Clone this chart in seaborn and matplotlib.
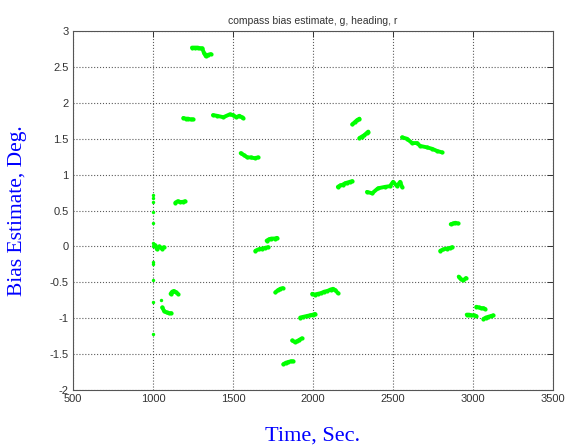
import numpy as np
import pandas as pd
import matplotlib
matplotlib.use('Agg')
import matplotlib.pyplot as plt
import seaborn as sns

# isolated estimates right at start-up (t = 1000 s)
spike_t = [1000, 1000, 1000, 1000, 1000, 1000, 1000, 1000, 1000, 1000, 1000, 1000, 1050]
spike_bias = [0.72, 0.68, 0.62, 0.48, 0.33, 0.05, 0.0, -0.22, -0.25, -0.47, -0.77, -1.22, -0.75]

# converged segments of the compass bias estimate
seg_id = ([1] * 5 + [2] * 5 + [3] * 5 + [4] * 5 + [5] * 5 + [6] * 9 + [7] * 9 + [8] * 6
          + [9] * 5 + [10] * 5 + [11] * 4 + [12] * 5 + [13] * 5 + [14] * 6 + [15] * 10
          + [16] * 7 + [17] * 4 + [18] * 5 + [19] * 9 + [20] * 9 + [21] * 5 + [22] * 4
          + [23] * 4 + [24] * 5 + [25] * 5 + [26] * 5)
seg_t = [1012, 1025, 1040, 1055, 1068,
         1058, 1070, 1085, 1100, 1115,
         1110, 1120, 1130, 1145, 1155,
         1140, 1155, 1170, 1185, 1200,
         1190, 1205, 1220, 1235, 1250,
         1244, 1260, 1280, 1295, 1308, 1318, 1330, 1345, 1360,
         1375, 1400, 1440, 1480, 1500, 1520, 1540, 1555, 1562,
         1548, 1570, 1590, 1610, 1635, 1656,
         1640, 1660, 1680, 1700, 1720,
         1710, 1725, 1740, 1760, 1775,
         1765, 1780, 1795, 1810,
         1815, 1830, 1845, 1860, 1875,
         1870, 1885, 1900, 1915, 1930,
         1920, 1940, 1960, 1980, 2000, 2012,
         1995, 2010, 2030, 2050, 2070, 2090, 2110, 2125, 2140, 2155,
         2155, 2170, 2185, 2200, 2215, 2230, 2245,
         2245, 2260, 2275, 2290,
         2290, 2305, 2320, 2335, 2345,
         2337, 2369, 2406, 2450, 2481, 2500, 2525, 2544, 2556,
         2556, 2587, 2619, 2650, 2669, 2712, 2744, 2775, 2806,
         2795, 2815, 2835, 2855, 2870,
         2860, 2875, 2890, 2905,
         2910, 2925, 2940, 2955,
         2960, 2975, 2990, 3005, 3020,
         3020, 3035, 3050, 3065, 3075,
         3065, 3080, 3095, 3110, 3125]
seg_bias = [0.02, -0.04, 0.00, -0.03, -0.01,
            -0.85, -0.90, -0.92, -0.93, -0.93,
            -0.66, -0.63, -0.62, -0.64, -0.66,
            0.61, 0.63, 0.62, 0.62, 0.63,
            1.79, 1.78, 1.78, 1.77, 1.77,
            2.77, 2.77, 2.77, 2.76, 2.76, 2.70, 2.65, 2.67, 2.68,
            1.83, 1.82, 1.80, 1.84, 1.83, 1.80, 1.82, 1.80, 1.79,
            1.30, 1.27, 1.24, 1.24, 1.23, 1.24,
            -0.06, -0.04, -0.03, -0.02, -0.01,
            0.08, 0.10, 0.11, 0.11, 0.12,
            -0.64, -0.61, -0.59, -0.58,
            -1.64, -1.62, -1.61, -1.60, -1.60,
            -1.31, -1.33, -1.32, -1.30, -1.28,
            -0.99, -0.98, -0.97, -0.96, -0.95, -0.94,
            -0.66, -0.67, -0.66, -0.65, -0.63, -0.62, -0.60, -0.59, -0.61, -0.65,
            0.83, 0.85, 0.86, 0.88, 0.89, 0.90, 0.91,
            1.70, 1.73, 1.76, 1.78,
            1.51, 1.53, 1.55, 1.58, 1.60,
            0.76, 0.74, 0.81, 0.83, 0.84, 0.90, 0.84, 0.90, 0.83,
            1.52, 1.50, 1.44, 1.44, 1.40, 1.38, 1.36, 1.33, 1.31,
            -0.06, -0.04, -0.03, -0.02, -0.01,
            0.31, 0.32, 0.33, 0.32,
            -0.42, -0.46, -0.47, -0.44,
            -0.95, -0.95, -0.96, -0.96, -0.97,
            -0.84, -0.85, -0.86, -0.86, -0.87,
            -1.01, -0.99, -0.98, -0.97, -0.96]

x_ticks = [500, 1000, 1500, 2000, 2500, 3000, 3500]
y_ticks = [-2, -1.5, -1, -0.5, 0, 0.5, 1, 1.5, 2, 2.5, 3]
y_tick_labels = ['-2', '-1.5', '-1', '-0.5', '0', '0.5', '1', '1.5', '2', '2.5', '3']

df = pd.DataFrame({'t': seg_t, 'bias': seg_bias, 'seg': seg_id})
spikes = pd.DataFrame({'t': spike_t, 'bias': spike_bias})

sns.set_style('white')
plt.rcParams['font.family'] = ['Liberation Sans', 'DejaVu Sans']

fig = plt.figure(figsize=(5.65, 4.47), dpi=100)
ax = fig.add_axes([0.129, 0.1275, 0.85, 0.803])

green = '#00ff00'
sns.lineplot(data=df, x='t', y='bias', units='seg', estimator=None, color=green,
             linewidth=2.8, marker='o', markersize=3, markeredgewidth=0, ax=ax)
sns.scatterplot(data=spikes, x='t', y='bias', color=green, s=6, linewidth=0, ax=ax)

ax.set_xlim(500, 3500)
ax.set_ylim(-2, 3)
ax.set_xticks(x_ticks)
ax.set_xticklabels([str(v) for v in x_ticks])
ax.set_yticks(y_ticks)
ax.set_yticklabels(y_tick_labels)
ax.tick_params(direction='in', length=4, width=0.7, top=True, right=True,
               labelsize=8, labelcolor='#333333', color='#333333', pad=3)
ax.grid(True, color='#333333', linestyle=':', linewidth=0.8, alpha=0.8)
for sp in ax.spines.values():
    sp.set_visible(True)
    sp.set_color('#555555')
    sp.set_linewidth(0.8)

ax.set_title('compass bias estimate, g, heading, r', fontsize=7.5, color='#333333', pad=5)
ax.set_xlabel('Time, Sec.', fontsize=16, color='blue', family='Liberation Serif', labelpad=16)
ax.set_ylabel('Bias Estimate, Deg.', fontsize=15.5, color='blue', family='Liberation Serif', labelpad=16)

fig.savefig('out.png', dpi=100, facecolor='white')
